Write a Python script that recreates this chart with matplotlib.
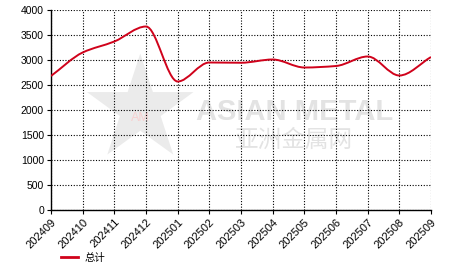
#!/usr/bin/env python3
import matplotlib
matplotlib.use("Agg")
import matplotlib.pyplot as plt
from matplotlib.path import Path
from matplotlib.patches import PathPatch
import numpy as np

plt.rcParams["font.family"] = ["Liberation Sans", "Noto Sans CJK SC", "DejaVu Sans"]

# Monthly values
months = ["202409", "202410", "202411", "202412", "202501", "202502", "202503",
          "202504", "202505", "202506", "202507", "202508", "202509"]
total = [2680, 3150, 3370, 3670, 2570, 2950, 2945, 3010, 2850, 2880, 3070, 2690, 3060]
series_name = "总计"


def smooth_path(x, y):
    # monotone cubic tangents (Fritsch-Carlson), drawn as Bezier segments
    x = np.asarray(x, float)
    y = np.asarray(y, float)
    h = np.diff(x)
    d = np.diff(y) / h
    m = np.zeros_like(y)
    m[0], m[-1] = d[0], d[-1]
    for i in range(1, len(y) - 1):
        if d[i - 1] * d[i] <= 0:
            m[i] = 0.0
        else:
            m[i] = 2.0 / (1.0 / d[i - 1] + 1.0 / d[i])
    verts = [(x[0], y[0])]
    codes = [Path.MOVETO]
    for i in range(len(x) - 1):
        verts += [(x[i] + h[i] / 3, y[i] + m[i] * h[i] / 3),
                  (x[i + 1] - h[i] / 3, y[i + 1] - m[i + 1] * h[i] / 3),
                  (x[i + 1], y[i + 1])]
        codes += [Path.CURVE4] * 3
    return Path(verts, codes)


fig = plt.figure(figsize=(4.66, 2.72), dpi=100)
ax = fig.add_axes([51 / 466, 62 / 272, 380 / 466, 200 / 272])

xs = np.arange(len(months))

# watermark
ax.text(0.235, 0.47, "★", transform=ax.transAxes, fontsize=100, color="#ebebeb",
        ha="center", va="center", family="DejaVu Sans", zorder=0)
ax.text(0.235, 0.46, "AM", transform=ax.transAxes, fontsize=9, color="#f7d0d0",
        ha="center", va="center", zorder=0)
ax.text(0.64, 0.49, "ASIAN METAL", transform=ax.transAxes, fontsize=21,
        color="#e3e3e3", ha="center", va="center", weight="bold", zorder=0)
ax.text(0.64, 0.35, "亚洲金属网", transform=ax.transAxes, fontsize=17,
        color="#e3e3e3", ha="center", va="center", family="Noto Sans CJK SC", zorder=0)

ax.add_patch(PathPatch(smooth_path(xs, total), facecolor="none",
                       edgecolor="#d0021b", lw=1.4, zorder=3))
ax.plot([], [], color="#d0021b", lw=2, label=series_name)

ax.set_xlim(0, len(months) - 1)
ax.set_ylim(0, 4000)
ax.set_xticks(xs)
ax.set_xticklabels(months, rotation=45, ha="right", va="top", rotation_mode="anchor",
                   fontsize=8)
ax.set_yticks(np.arange(0, 4001, 500))
ax.tick_params(axis="y", labelsize=7.5)
ax.tick_params(axis="both", length=3, direction="out", pad=2)
ax.grid(True, color="black", linestyle=(0, (1, 1.5)), lw=0.8)
ax.set_axisbelow(True)
for s in ("top", "right"):
    ax.spines[s].set_visible(False)
for s in ("left", "bottom"):
    ax.spines[s].set_linewidth(1.0)

ax.legend(loc="center left", bbox_to_anchor=(0.015, -0.24), frameon=False,
          handlelength=1.6, borderaxespad=0, handletextpad=0.7,
          prop={"family": ["Noto Sans CJK SC", "DejaVu Sans"], "size": 7.5})

fig.savefig("out.png", dpi=100)
